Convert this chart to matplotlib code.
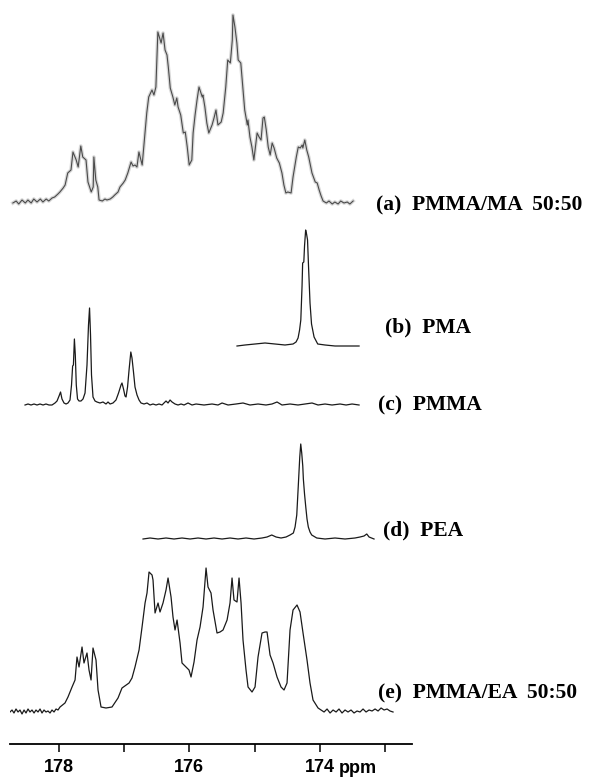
import matplotlib.pyplot as plt

# (a) PMMA/MA 50:50
a_ppm = [178.70, 178.65, 178.61, 178.56, 178.51, 178.47, 178.42, 178.38, 178.33, 178.28,
         178.24, 178.19, 178.15, 178.10, 178.06, 178.01, 177.98, 177.93, 177.90, 177.86,
         177.81, 177.78, 177.73, 177.70, 177.66, 177.63, 177.58, 177.55, 177.50, 177.47,
         177.46, 177.43, 177.40, 177.38, 177.33, 177.29, 177.26, 177.21, 177.17, 177.14,
         177.09, 177.06, 177.01, 176.98, 176.94, 176.89, 176.86, 176.83, 176.80, 176.77,
         176.72, 176.69, 176.65, 176.62, 176.57, 176.54, 176.51, 176.48, 176.43, 176.40,
         176.37, 176.34, 176.32, 176.29, 176.25, 176.22, 176.19, 176.17, 176.13, 176.09,
         176.06, 176.03, 176.00, 175.96, 175.94, 175.91, 175.88, 175.85, 175.80, 175.79,
         175.76, 175.73, 175.70, 175.65, 175.62, 175.59, 175.56, 175.51, 175.48, 175.44,
         175.41, 175.37, 175.34, 175.33, 175.30, 175.27, 175.25, 175.21, 175.18, 175.15,
         175.11, 175.10, 175.07, 175.04, 175.01, 174.96, 174.93, 174.90, 174.87, 174.85,
         174.82, 174.79, 174.76, 174.73, 174.70, 174.66, 174.62, 174.58, 174.55, 174.52,
         174.49, 174.44, 174.41, 174.36, 174.33, 174.30, 174.27, 174.26, 174.23, 174.20,
         174.17, 174.12, 174.07, 174.04, 174.01, 173.98, 173.95, 173.90, 173.86, 173.81,
         173.77, 173.72, 173.68, 173.63, 173.58, 173.54, 173.49]
a_int = [1, 3, 0, 4, 1, 4, 1, 5, 2, 5,
         2, 5, 3, 6, 7, 10, 12, 16, 19, 31,
         34, 52, 44, 37, 58, 47, 44, 22, 12, 17,
         47, 24, 17, 4, 3, 5, 4, 5, 7, 9,
         12, 17, 21, 24, 31, 42, 38, 39, 37, 52,
         39, 61, 91, 107, 114, 109, 117, 172, 161, 171,
         154, 149, 137, 116, 107, 99, 106, 97, 89, 71,
         72, 57, 39, 44, 71, 89, 104, 117, 107, 109,
         97, 81, 71, 79, 86, 94, 79, 82, 91, 117,
         144, 141, 164, 189, 177, 161, 144, 141, 117, 94,
         79, 84, 67, 57, 44, 71, 67, 64, 86, 87,
         74, 57, 49, 61, 56, 46, 41, 31, 19, 11,
         12, 11, 27, 47, 57, 56, 59, 56, 64, 54,
         47, 31, 22, 21, 14, 8, 3, 1, 3, 0,
         2, 0, 3, 1, 2, 0, 3]

# (b) PMA
b_ppm = [175.268, 175.145, 174.992, 174.839, 174.686, 174.533, 174.410, 174.364, 174.333,
         174.310, 174.291, 174.272, 174.263, 174.245, 174.234, 174.217, 174.203, 174.188,
         174.173, 174.150, 174.127, 174.088, 174.032, 173.920, 173.767, 173.614, 173.399]
b_int = [0, 1, 2, 3, 2, 1, 2, 4, 8,
         16, 26, 60, 83, 84, 100, 116, 112, 106,
         80, 43, 22, 9, 2, 1, 0, 0, 0]

# (c) PMMA
c_ppm = [178.514, 178.468, 178.422, 178.376, 178.330, 178.284, 178.238, 178.193, 178.147,
         178.101, 178.055, 178.024, 177.993, 177.970, 177.948, 177.917, 177.886, 177.856,
         177.825, 177.802, 177.785, 177.773, 177.758, 177.744, 177.729, 177.710, 177.687,
         177.657, 177.626, 177.595, 177.565, 177.542, 177.526, 177.511, 177.496, 177.473,
         177.442, 177.412, 177.366, 177.320, 177.274, 177.243, 177.212, 177.167, 177.121,
         177.082, 177.044, 177.029, 177.006, 176.983, 176.967, 176.944, 176.921, 176.894,
         176.876, 176.853, 176.830, 176.799, 176.768, 176.738, 176.692, 176.646, 176.600,
         176.554, 176.508, 176.462, 176.416, 176.386, 176.355, 176.324, 176.293, 176.263,
         176.217, 176.171, 176.125, 176.079, 176.018, 175.957, 175.895, 175.773, 175.650,
         175.559, 175.497, 175.405, 175.283, 175.176, 175.069, 174.946, 174.824, 174.732,
         174.655, 174.579, 174.456, 174.334, 174.226, 174.119, 174.027, 173.920, 173.813,
         173.690, 173.598, 173.506, 173.399]
c_int = [0, 1, 0, 1, 0, 1, 0, 1, 0,
         0, 2, 4, 9, 13, 6, 2, 1, 2,
         5, 20, 39, 40, 66, 50, 20, 6, 4,
         4, 6, 12, 40, 80, 97, 70, 30, 8,
         4, 3, 2, 3, 1, 3, 1, 2, 5,
         12, 20, 22, 16, 9, 8, 18, 35, 53,
         47, 33, 18, 10, 5, 2, 1, 2, 0,
         1, 0, 1, 0, 2, 4, 2, 5, 3,
         1, 0, 1, 0, 2, 0, 1, 0, 1,
         0, 2, 0, 1, 2, 0, 1, 0, 1,
         3, 0, 1, 0, 1, 2, 0, 1, 0,
         1, 0, 1, 0]

# (d) PEA
d_ppm = [176.707, 176.600, 176.477, 176.355, 176.232, 176.110, 175.987, 175.865, 175.742,
         175.620, 175.497, 175.375, 175.252, 175.130, 175.007, 174.885, 174.808, 174.736,
         174.670, 174.594, 174.517, 174.456, 174.405, 174.379, 174.353, 174.329, 174.307,
         174.292, 174.277, 174.261, 174.252, 174.234, 174.215, 174.196, 174.176, 174.150,
         174.124, 174.047, 173.920, 173.767, 173.614, 173.461, 173.384, 173.323, 173.281,
         173.246, 173.170]
d_int = [0, 1, 0, 1, 0, 1, 0, 1, 0,
         1, 0, 1, 0, 1, 0, 1, 2, 4,
         2, 1, 2, 4, 6, 12, 24, 54, 82,
         95, 86, 73, 60, 45, 32, 20, 12, 7,
         4, 1, 0, 1, 0, 1, 2, 3, 5,
         2, 0]

# (e) PMMA/EA 50:50
e_ppm = [178.744, 178.713, 178.683, 178.652, 178.621, 178.591, 178.560, 178.529, 178.499,
         178.468, 178.438, 178.407, 178.376, 178.346, 178.315, 178.284, 178.254, 178.223,
         178.193, 178.162, 178.131, 178.101, 178.070, 178.039, 178.009,
         177.978, 177.902, 177.856, 177.794, 177.748, 177.718, 177.687, 177.641, 177.611,
         177.565, 177.534, 177.503, 177.473, 177.427, 177.396, 177.350, 177.274, 177.182,
         177.090, 177.029, 176.921, 176.876, 176.830, 176.768, 176.722, 176.676, 176.646,
         176.615, 176.569, 176.554, 176.523, 176.477, 176.447, 176.401, 176.355, 176.324,
         176.278, 176.248, 176.217, 176.186, 176.140, 176.110, 176.049, 176.003, 175.972,
         175.926, 175.880, 175.834, 175.788, 175.742, 175.712, 175.666, 175.635, 175.574,
         175.528, 175.482, 175.420, 175.375, 175.344, 175.314, 175.268, 175.237, 175.206,
         175.176, 175.130, 175.099, 175.038, 174.992, 174.946, 174.885, 174.839, 174.808,
         174.762, 174.716, 174.655, 174.594, 174.548, 174.502, 174.456, 174.410, 174.349,
         174.303, 174.257, 174.196, 174.150, 174.104, 174.027,
         173.981, 173.935, 173.889, 173.843, 173.797, 173.751, 173.706, 173.660, 173.614,
         173.568, 173.522, 173.476, 173.430, 173.384, 173.338, 173.292, 173.246, 173.200,
         173.154, 173.108, 173.062, 173.016, 172.970, 172.925, 172.879]
e_int = [1, 3, 0, 4, 1, 3, -1, 3, 0,
         4, 1, 3, 0, 3, 1, 4, 0, 3,
         1, 2, 0, 3, 1, 4, 3,
         6, 10, 16, 26, 33, 56, 46, 66, 50,
         60, 43, 33, 65, 53, 23, 6, 5, 6,
         15, 25, 30, 35, 46, 63, 86, 110, 120,
         141, 138, 133, 100, 110, 101, 110, 123, 135,
         116, 96, 83, 93, 70, 50, 46, 43, 36,
         51, 73, 86, 106, 145, 126, 120, 103, 80,
         81, 83, 93, 110, 135, 113, 111, 135, 110,
         73, 43, 26, 21, 26, 56, 80, 81, 81,
         58, 50, 36, 26, 23, 30, 83, 103, 108,
         101, 80, 53, 30, 13, 5,
         3, 1, 4, 0, 3, 1, 4, 0, 3,
         1, 3, 0, 2, 1, 4, 1, 3, 2,
         4, 2, 5, 3, 4, 2, 1]

spectra = [
    (a_ppm, a_int, '(a)  PMMA/MA  50:50'),
    (b_ppm, b_int, '(b)  PMA'),
    (c_ppm, c_int, '(c)  PMMA'),
    (d_ppm, d_int, '(d)  PEA'),
    (e_ppm, e_int, '(e)  PMMA/EA  50:50'),
]

# vertical stacking (baseline height above the axis) and label placement
offsets = [540, 398, 339, 205, 31]
label_pos = [(376, 205), (385, 327), (378, 405), (383, 530), (378, 693)]

W, H = 589, 778
fig = plt.figure(figsize=(W / 100, H / 100), dpi=100)
ax = fig.add_axes([10 / W, 34 / H, 401.7 / W, 744 / H])

for i, (ppm, inten, label) in enumerate(spectra):
    y = [offsets[i] + v for v in inten]
    if i == 0:
        ax.plot(ppm, y, color='#d8d8d8', lw=2.6, solid_joinstyle='round')
        ax.plot(ppm, y, color='#4a4a4a', lw=0.8)
    else:
        ax.plot(ppm, y, color='#1a1a1a', lw=0.9)
    lx, ly = label_pos[i]
    fig.text(lx / W, 1 - ly / H, label, family='Liberation Serif', weight='bold',
             fontsize=15.5, va='center', ha='left')

ax.set_xlim(178.744, 172.593)
ax.set_ylim(0, 744)
for s in ['left', 'right', 'top']:
    ax.spines[s].set_visible(False)
ax.spines['bottom'].set_linewidth(1.3)
ax.set_yticks([])
ax.set_xticks([178, 177, 176, 175, 174, 173])
ax.set_xticklabels(['178', '', '176', '', '174', ''])
ax.tick_params(axis='x', direction='out', length=6, width=1.1, pad=5)
for t in ax.get_xticklabels():
    t.set_family('Liberation Sans')
    t.set_weight('bold')
    t.set_fontsize(13)
fig.text(339 / W, 5 / H, 'ppm', family='Liberation Sans', weight='bold',
         fontsize=13, va='baseline', ha='left')

fig.savefig('out.png', dpi=100)
